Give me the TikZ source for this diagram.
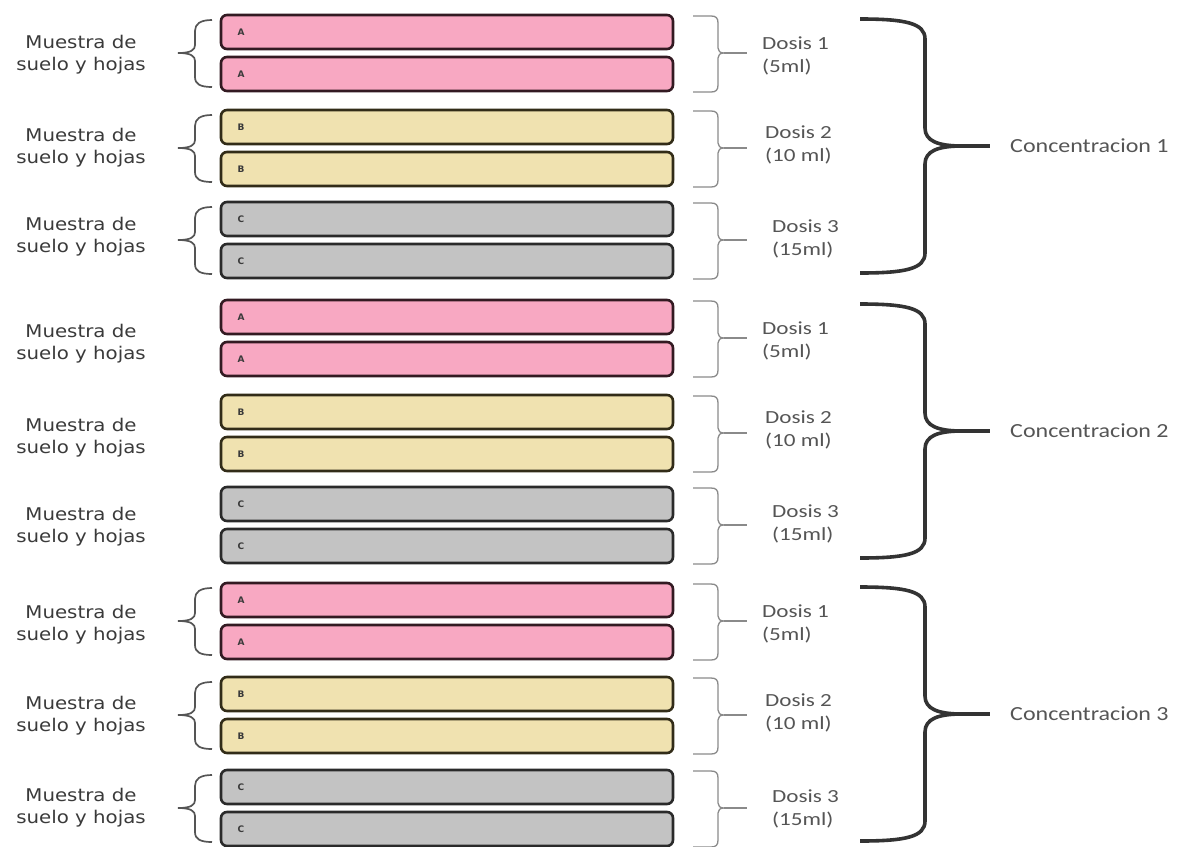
\documentclass[tikz,border=0pt]{standalone}
\usepackage{fontspec}
\newfontfamily\leftfont[FakeStretch=1.13]{DejaVu Sans}
\newfontfamily\dosefont[FakeStretch=1.25]{Carlito}
\newfontfamily\concfont[FakeStretch=1.2]{Carlito}
\newfontfamily\letterfont{DejaVu Sans}
\definecolor{pinkfill}{HTML}{F8A8C2}
\definecolor{pinkline}{HTML}{331A22}
\definecolor{beigefill}{HTML}{F0E2B0}
\definecolor{beigeline}{HTML}{322C18}
\definecolor{grayfill}{HTML}{C3C3C3}
\definecolor{grayline}{HTML}{2A2A2A}
\definecolor{txtdark}{HTML}{3A3A3A}
\definecolor{txtgray}{HTML}{555555}
\definecolor{bracedark}{HTML}{333333}
\definecolor{bracegray}{HTML}{8A8A8A}
\definecolor{bracemid}{HTML}{555555}

\newcommand\barpair[5]{% #1 id, #2 top, #3 letter, #4 bar style, #5 text y
  \node[#4] (#1a) at (447,#2+17) {};
  \node[#4] (#1b) at (447,#2+59) {};
  \node[barletter] (#1la) at (241,#2+17) {#3};
  \node[barletter] (#1lb) at (241,#2+59) {#3};
  \node[lefttext] (#1m) at (81,#5) {Muestra de\\suelo y hojas};
  \draw[dosebrace] (693,#2+1) -- (711,#2+1) .. controls (716,#2+1) and (718,#2+3) .. (718,#2+8)
     -- (718,#2+33) .. controls (718,#2+36) and (720,#2+38) .. (724,#2+38)
     .. controls (720,#2+38) and (718,#2+40) .. (718,#2+43)
     -- (718,#2+70) .. controls (718,#2+75) and (716,#2+77) .. (711,#2+77) -- (693,#2+77);
  \coordinate (#1t) at (724,#2+38);
  \coordinate (#1e) at (747,#2+38);
  \draw[dosebrace] (#1t) -- (#1e);
}
\newcommand\leftbrace[1]{% #1 top
  \draw[leftbr] (212,#1+5) .. controls (200,#1+5) and (195,#1+9) .. (195,#1+16)
     -- (195,#1+30) .. controls (195,#1+35) and (191,#1+38) .. (178,#1+38)
     .. controls (191,#1+38) and (195,#1+41) .. (195,#1+46)
     -- (195,#1+62) .. controls (195,#1+69) and (200,#1+72) .. (212,#1+72);
}
\newcommand\bigbrace[2]{% #1 id, #2 top
  \draw[bigbr] (860,#2+4) .. controls (905,#2+4) and (925,#2+8) .. (925,#2+24)
     -- (925,#2+113) .. controls (925,#2+126) and (938,#2+131) .. (962,#2+131)
     .. controls (938,#2+131) and (925,#2+136) .. (925,#2+149)
     -- (925,#2+238) .. controls (925,#2+254) and (905,#2+258) .. (860,#2+258);
  \coordinate (#1t) at (962,#2+131);
  \node[conctext] (#1c) at (1010,#2+131) {Concentracion #1};
  \draw[bigbr] (#1t) -- (#1c.west -| 990,0);
}
\newcommand\dose[5]{% #1 id, #2 x, #3 y, #4 line1, #5 line2
  \node[dosetext] (#1) at (#2,#3) {#4\\#5};
}

\begin{document}
\begin{tikzpicture}[x=1pt,y=-1pt,
  barbase/.style={rectangle, rounded corners=6pt, minimum width=452pt, minimum height=34pt, line width=2.6pt, inner sep=0pt},
  pinkbar/.style={barbase, fill=pinkfill, draw=pinkline},
  beigebar/.style={barbase, fill=beigefill, draw=beigeline},
  graybar/.style={barbase, fill=grayfill, draw=grayline},
  barletter/.style={inner sep=0pt, font=\letterfont\bfseries\fontsize{9}{10}\selectfont, text=txtdark},
  lefttext/.style={inner sep=0pt, align=center, text=txtdark, font=\leftfont\fontsize{17.5}{22}\selectfont},
  dosetext/.style={inner sep=0pt, anchor=west, align=left, text=txtgray, font=\dosefont\fontsize{18.5}{23}\selectfont},
  conctext/.style={inner sep=0pt, anchor=west, text=txtgray, font=\concfont\fontsize{20}{24}\selectfont},
  dosebrace/.style={draw=bracegray, line width=1.3pt},
  leftbr/.style={draw=bracemid, line width=1.7pt},
  bigbr/.style={draw=bracedark, line width=3.6pt}
]
\useasboundingbox (0,0) rectangle (1180,846);

% ---- group 1
\barpair{g1A}{15}{A}{pinkbar}{55}
\barpair{g1B}{110}{B}{beigebar}{148}
\barpair{g1C}{202}{C}{graybar}{237}
\leftbrace{15}\leftbrace{110}\leftbrace{202}
\dose{g1d1}{762}{56}{Dosis 1}{(5ml)}
\dose{g1d2}{765}{145}{Dosis 2}{(10 ml)}
\dose{g1d3}{772}{239}{Dosis 3}{(15ml)}
\bigbrace{1}{15}

% ---- group 2
\barpair{g2A}{300}{A}{pinkbar}{344}
\barpair{g2B}{395}{B}{beigebar}{438}
\barpair{g2C}{487}{C}{graybar}{527}
\dose{g2d1}{762}{341}{Dosis 1}{(5ml)}
\dose{g2d2}{765}{430}{Dosis 2}{(10 ml)}
\dose{g2d3}{772}{524}{Dosis 3}{(15ml)}
\bigbrace{2}{300}

% ---- group 3
\barpair{g3A}{583}{A}{pinkbar}{625}
\barpair{g3B}{677}{B}{beigebar}{716}
\barpair{g3C}{770}{C}{graybar}{808}
\leftbrace{583}\leftbrace{677}\leftbrace{770}
\dose{g3d1}{762}{624}{Dosis 1}{(5ml)}
\dose{g3d2}{765}{713}{Dosis 2}{(10 ml)}
\dose{g3d3}{772}{809}{Dosis 3}{(15ml)}
\bigbrace{3}{583}
\end{tikzpicture}
\end{document}
